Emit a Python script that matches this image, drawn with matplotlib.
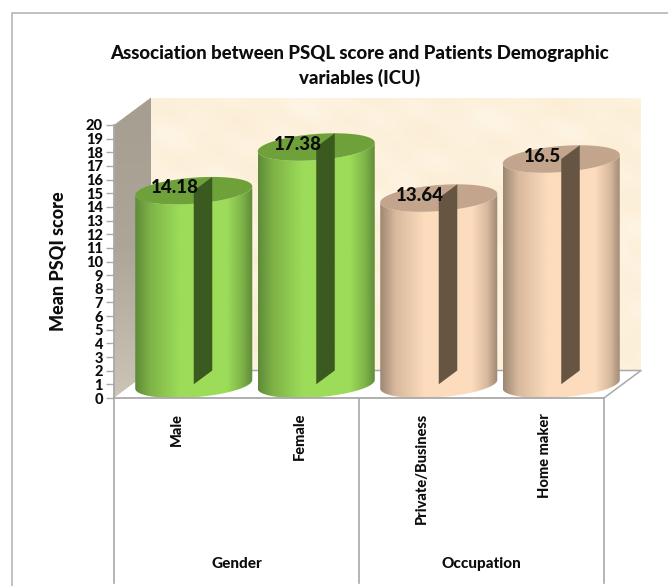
import numpy as np
import matplotlib
matplotlib.use("Agg")
import matplotlib.pyplot as plt
from matplotlib.colors import LinearSegmentedColormap
from matplotlib.lines import Line2D
from matplotlib.patches import Polygon
from matplotlib.transforms import blended_transform_factory

plt.rcParams["font.family"] = ["Lato", "DejaVu Sans"]

categories = ["Male", "Female", "Private/Business", "Home maker"]
values = [14.18, 17.38, 13.64, 16.5]
value_labels = ["14.18", "17.38", "13.64", "16.5"]
groups = ["Gender", "Occupation"]
group_colors = ["green", "green", "peach", "peach"]
y_ticks = list(range(0, 21))

FIG_W, FIG_H = 668, 586
AX_L, AX_R, AX_T, AX_B = 114, 604, 125, 398
GREY = "#a9a9a9"
INK = "#0d0d0d"
WEIGHT = "black"

# depth of the 3D box and cylinder shape, in data units
DEPTH_X = 37 / 122.5
DEPTH_Y = 27.5 / 13.65
RADIUS = 55.5 / 122.5
SHEAR_X = DEPTH_X / 2
SHEAR_Y = DEPTH_Y / 2

PALETTE = {
    "green": {
        "edge": "#5f8a38", "mid": "#7fb348", "bright": "#9cdc59",
        "top": "#6fa13b", "slit": "#3b5a1f",
    },
    "peach": {
        "edge": "#9d8772", "mid": "#d8b99d", "bright": "#fcdcbd",
        "top": "#c2a58c", "slit": "#675544",
    },
}


def ring(cx, cy, t):
    return cx + RADIUS * np.cos(t) + SHEAR_X * np.sin(t), cy + SHEAR_Y * np.sin(t)


def gradient_fill(ax, extent, data, cmap, clip_patch, zorder):
    im = ax.imshow(data, extent=extent, origin="lower", aspect="auto", cmap=cmap,
                   vmin=0, vmax=1, interpolation="bilinear", zorder=zorder)
    im.set_clip_box(ax.figure.bbox)
    im.set_clip_path(clip_patch)


def draw_cylinder(ax, cx, value, colors):
    base = SHEAR_Y
    top = base + value
    half_w = np.hypot(RADIUS, SHEAR_X)
    t_left = np.pi + np.arctan2(SHEAR_X, RADIUS)
    t_right = np.arctan2(SHEAR_X, RADIUS)

    # outline: front arc of the base, up the right side, front arc of the top back down
    t_front = np.linspace(t_left, t_right + 2 * np.pi, 80)
    bx, by = ring(cx, base, t_front)
    tx, ty = ring(cx, top, t_front[::-1])
    body = Polygon(np.column_stack([np.r_[bx, tx], np.r_[by, ty]]), closed=True,
                   facecolor="none", edgecolor="none", zorder=3, clip_on=False)
    ax.add_patch(body)

    cmap = LinearSegmentedColormap.from_list("body", [
        (0.0, colors["edge"]), (0.13, colors["mid"]), (0.38, colors["bright"]),
        (0.78, colors["bright"]), (0.91, colors["mid"]), (1.0, colors["edge"]),
    ])
    shade = np.linspace(0, 1, 256).reshape(1, -1)
    gradient_fill(ax, (cx - half_w, cx + half_w, base - SHEAR_Y * 1.1, top + SHEAR_Y),
                  shade, cmap, body, 3)

    t = np.linspace(0, 2 * np.pi, 160)
    lid_x, lid_y = ring(cx, top, t)
    ax.add_patch(Polygon(np.column_stack([lid_x, lid_y]), closed=True,
                         facecolor=colors["top"], edgecolor="none",
                         zorder=4, clip_on=False))

    # dark slit running from the axis of the cylinder to its back edge
    ax.add_patch(Polygon([(cx, base), (cx + SHEAR_X, base + SHEAR_Y),
                          (cx + SHEAR_X, top + SHEAR_Y), (cx, top)],
                         closed=True, facecolor=colors["slit"], edgecolor="none",
                         zorder=5, clip_on=False))


fig = plt.figure(figsize=(FIG_W / 100, FIG_H / 100), dpi=100, facecolor="white")
ax = fig.add_axes([AX_L / FIG_W, 1 - AX_B / FIG_H,
                   (AX_R - AX_L) / FIG_W, (AX_B - AX_T) / FIG_H])
ax.patch.set_visible(False)
x0, x1 = -0.5, len(categories) - 0.5
y0, y1 = 0, 20

# back wall with a soft mottled cream texture
wall = Polygon([(x0 + DEPTH_X, DEPTH_Y), (x1 + DEPTH_X, DEPTH_Y),
                (x1 + DEPTH_X, y1 + DEPTH_Y), (x0 + DEPTH_X, y1 + DEPTH_Y)],
               closed=True, facecolor="none", edgecolor="none", zorder=1, clip_on=False)
ax.add_patch(wall)
yy, xx = np.mgrid[0:1:140j, 0:1:240j]
mottle = (np.sin(17 * xx + 9 * yy) + np.sin(31 * xx - 23 * yy + 1.3)
          + np.sin(7 * xx + 37 * yy + 0.6) + np.sin(53 * xx + 41 * yy + 2.1))
mottle = (mottle - mottle.min()) / (mottle.max() - mottle.min())
wall_cmap = LinearSegmentedColormap.from_list("wall", ["#fceed6", "#fdf1dc", "#fef5e6"])
gradient_fill(ax, (x0 + DEPTH_X, x1 + DEPTH_X, DEPTH_Y, y1 + DEPTH_Y),
              mottle, wall_cmap, wall, 1)

# left side wall
side = Polygon([(x0, y0), (x0 + DEPTH_X, DEPTH_Y), (x0 + DEPTH_X, y1 + DEPTH_Y), (x0, y1)],
               closed=True, facecolor="none", edgecolor="none", zorder=1, clip_on=False)
ax.add_patch(side)
side_cmap = LinearSegmentedColormap.from_list("side", ["#cbc4b7", "#ada597", "#a69e90"])
gradient_fill(ax, (x0, x0 + DEPTH_X, y0, y1 + DEPTH_Y),
              np.linspace(0, 1, 64).reshape(-1, 1), side_cmap, side, 1)

# floor
ax.add_patch(Polygon([(x0, y0), (x1, y0), (x1 + DEPTH_X, DEPTH_Y), (x0 + DEPTH_X, DEPTH_Y)],
                     closed=True, facecolor="white", edgecolor="none", zorder=2, clip_on=False))
ax.plot([x0 + DEPTH_X, x1 + DEPTH_X, x1], [DEPTH_Y, DEPTH_Y, y0], color=GREY, lw=1.1,
        zorder=2, clip_on=False)

for i, (value, name) in enumerate(zip(values, group_colors)):
    draw_cylinder(ax, i + SHEAR_X, value, PALETTE[name])

for i, (value, label) in enumerate(zip(values, value_labels)):
    ax.text(i, value + SHEAR_Y + 0.2, label, ha="center", va="center", fontsize=13.5,
            fontweight=WEIGHT, color=INK, zorder=6)

ax.set_xlim(x0, x1)
ax.set_ylim(y0, y1)
ax.set_yticks(y_ticks)
ax.set_yticklabels([str(v) for v in y_ticks], fontsize=10.5, fontweight=WEIGHT)
ax.tick_params(axis="y", length=6, width=1.0, color=GREY, pad=2, labelcolor=INK)
ax.set_xticks([])
for name in ["top", "right"]:
    ax.spines[name].set_visible(False)
for name in ["left", "bottom"]:
    ax.spines[name].set_color(GREY)
    ax.spines[name].set_linewidth(1.3)
    ax.spines[name].set_zorder(7)

# two-level category axis below the plot
below = blended_transform_factory(ax.transData, fig.transFigure)
for i, label in enumerate(categories):
    ax.text(i + 0.015, 1 - 413 / FIG_H, label, transform=below, rotation=90, ha="center",
            va="top", fontsize=10.5, fontweight=WEIGHT, color=INK)
for center, label in zip([0.5, 2.5], groups):
    ax.text(center, 1 - 564 / FIG_H, label, transform=below, ha="center", va="center",
            fontsize=11, fontweight=WEIGHT, color=INK)
for xpos in [x0, (x0 + x1) / 2, x1]:
    ax.plot([xpos, xpos], [1 - AX_B / FIG_H, 1 - 583 / FIG_H], transform=below,
            color=GREY, lw=1.2, clip_on=False)

ax.set_ylabel("Mean PSQI score", fontsize=13, fontweight=WEIGHT, color=INK)
ax.yaxis.set_label_coords(66 / FIG_W, 1 - 261 / FIG_H, transform=fig.transFigure)

fig.text(360 / FIG_W, 1 - 53 / FIG_H, "Association between PSQL score and Patients Demographic",
         ha="center", va="center", fontsize=13.4, fontweight=WEIGHT, color=INK)
fig.text(360 / FIG_W, 1 - 78 / FIG_H, "variables (ICU)",
         ha="center", va="center", fontsize=13.4, fontweight=WEIGHT, color=INK)

# chart-area border, open at the right and bottom
fig.add_artist(Line2D([11.5 / FIG_W, 11.5 / FIG_W, 1], [0, 1 - 12.5 / FIG_H, 1 - 12.5 / FIG_H],
                      color="#b5b5b5", lw=1.2))

fig.savefig("out.png", dpi=100)
